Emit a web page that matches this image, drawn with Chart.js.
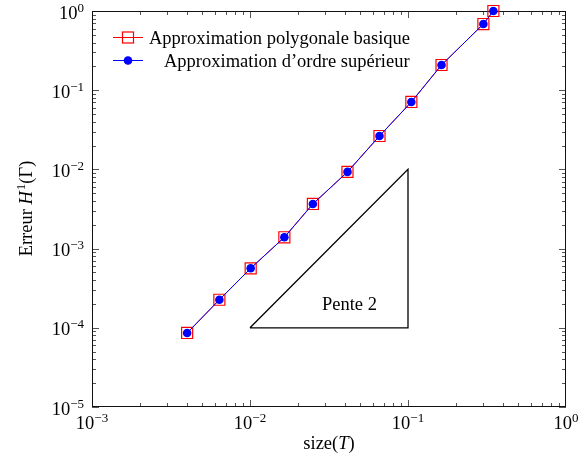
<!DOCTYPE html>
<html lang="fr">
<head>
  <meta charset="UTF-8" />
  <title>Erreur H1 en fonction de la taille du maillage</title>
  <script src="https://cdn.jsdelivr.net/npm/chart.js"></script>
  <style>
    body {
      margin: 0;
      padding: 0;
      background: #fff;
    }
    canvas {
      display: block;
    }
  </style>
</head>
<body>
  <canvas id="graficoErreur" width="585" height="464"></canvas>

  <script>
    const tailles = [0.004, 0.0064, 0.0101, 0.0165, 0.025, 0.0414, 0.066, 0.105, 0.163, 0.30, 0.347];
    const erreurBasique = [8.6e-5, 2.26e-4, 5.64e-4, 1.39e-3, 3.66e-3, 9.3e-3, 2.64e-2, 7.1e-2, 0.208, 0.685, 1.0];
    const erreurSuperieur = [8.6e-5, 2.26e-4, 5.64e-4, 1.39e-3, 3.66e-3, 9.3e-3, 2.64e-2, 7.1e-2, 0.208, 0.685, 1.0];
    const penteX = [0.01, 0.1, 0.1, 0.01];
    const penteY = [1e-4, 1e-4, 1e-2, 1e-4];
    const ticksX = [1e-3, 1e-2, 1e-1, 1];
    const ticksY = [1e-5, 1e-4, 1e-3, 1e-2, 1e-1, 1];
    const legende = ["Approximation polygonale basique", "Approximation d\u2019ordre sup\u00e9rieur"];

    const serif = '"Liberation Serif", "Times New Roman", serif';
    const points = (xs, ys) => xs.map((x, i) => ({ x: x, y: ys[i] }));
    const exposant = v => {
      const e = Math.round(Math.log10(v));
      return e < 0 ? "\u2212" + (-e) : String(e);
    };

    // ticks vers l'interieur + cadre, comme pgfplots
    const cadre = {
      id: 'cadre',
      beforeDatasetsDraw(chart) {
        const { ctx, chartArea: a, scales: { x, y } } = chart;
        ctx.save();
        ctx.strokeStyle = '#555';
        ctx.lineWidth = 1;
        ctx.beginPath();
        for (let d = -3; d < 0; d++) {
          for (let k = 1; k < 10; k++) {
            const px = Math.round(x.getPixelForValue(k * Math.pow(10, d))) + 0.5;
            const l = k === 1 ? 7 : 4;
            ctx.moveTo(px, a.bottom); ctx.lineTo(px, a.bottom - l);
            ctx.moveTo(px, a.top); ctx.lineTo(px, a.top + l);
          }
        }
        for (let d = -5; d < 0; d++) {
          for (let k = 1; k < 10; k++) {
            const py = Math.round(y.getPixelForValue(k * Math.pow(10, d))) + 0.5;
            const l = k === 1 ? 7 : 4;
            ctx.moveTo(a.left, py); ctx.lineTo(a.left + l, py);
            ctx.moveTo(a.right, py); ctx.lineTo(a.right - l, py);
          }
        }
        ctx.stroke();
        ctx.strokeStyle = '#111';
        ctx.strokeRect(a.left + 0.5, a.top + 0.5, a.right - a.left - 1, a.bottom - a.top - 1);
        ctx.restore();
      },
      afterDraw(chart) {
        const { ctx, chartArea: a, scales: { x, y } } = chart;
        ctx.save();
        ctx.fillStyle = '#000';
        ctx.textBaseline = 'alphabetic';
        const grand = '18.5px ' + serif;
        const petit = '13px ' + serif;

        // etiquettes axe x
        ticksX.forEach(v => {
          const px = x.getPixelForValue(v);
          ctx.font = grand; const w1 = ctx.measureText('10').width;
          ctx.font = petit; const w2 = ctx.measureText(exposant(v)).width;
          const x0 = px - (w1 + w2) / 2;
          ctx.textAlign = 'left';
          ctx.font = grand; ctx.fillText('10', x0, a.bottom + 22);
          ctx.font = petit; ctx.fillText(exposant(v), x0 + w1, a.bottom + 15);
        });

        // etiquettes axe y
        ticksY.forEach(v => {
          const py = y.getPixelForValue(v);
          ctx.font = petit; const w2 = ctx.measureText(exposant(v)).width;
          const xr = a.left - 8;
          ctx.textAlign = 'right';
          ctx.fillText(exposant(v), xr, py + 0.5);
          ctx.font = grand; ctx.fillText('10', xr - w2, py + 7.5);
        });

        // titre axe x : size(T)
        ctx.textAlign = 'left';
        const morceauxX = [['size(', grand], ['T', 'italic ' + grand], [')', grand]];
        let total = 0;
        morceauxX.forEach(m => { ctx.font = m[1]; total += ctx.measureText(m[0]).width; });
        let cx = (a.left + a.right) / 2 - total / 2;
        morceauxX.forEach(m => { ctx.font = m[1]; ctx.fillText(m[0], cx, 449); cx += ctx.measureText(m[0]).width; });

        // titre axe y : Erreur H^1(Γ)
        ctx.save();
        ctx.translate(32, (a.top + a.bottom) / 2);
        ctx.rotate(-Math.PI / 2);
        const morceauxY = [['Erreur ', grand, 0], ['H', 'italic ' + grand, 0], ['1', petit, -7], ['(\u0393)', grand, 0]];
        total = 0;
        morceauxY.forEach(m => { ctx.font = m[1]; total += ctx.measureText(m[0]).width; });
        cx = -total / 2;
        morceauxY.forEach(m => { ctx.font = m[1]; ctx.fillText(m[0], cx, m[2]); cx += ctx.measureText(m[0]).width + (m[0] === 'H' ? 1 : 0); });
        ctx.restore();

        // texte du triangle
        ctx.font = grand;
        ctx.textAlign = 'center';
        ctx.textBaseline = 'middle';
        ctx.fillText('Pente 2', x.getPixelForValue(0.0426), y.getPixelForValue(1.94e-4));

        // legende
        ctx.textAlign = 'left';
        ctx.textBaseline = 'alphabetic';
        ctx.lineWidth = 1;
        ctx.strokeStyle = '#ff0000';
        ctx.beginPath(); ctx.moveTo(113, 37.5); ctx.lineTo(143, 37.5); ctx.stroke();
        ctx.lineWidth = 1.2;
        ctx.strokeRect(128 - 5.5, 37.5 - 5.5, 11, 11);
        ctx.strokeStyle = '#0000ff';
        ctx.fillStyle = '#0000ff';
        ctx.lineWidth = 1;
        ctx.beginPath(); ctx.moveTo(113, 60.5); ctx.lineTo(143, 60.5); ctx.stroke();
        ctx.beginPath(); ctx.arc(128, 60.5, 4.3, 0, Math.PI * 2); ctx.fill();
        ctx.fillStyle = '#000';
        ctx.font = grand;
        ctx.fillText(legende[0], 149, 44);
        ctx.fillText(legende[1], 164, 66.5);
        ctx.restore();
      }
    };

    const ctx = document.getElementById('graficoErreur').getContext('2d');

    new Chart(ctx, {
      type: 'line',
      data: {
        datasets: [{
          label: legende[1],
          data: points(tailles, erreurSuperieur),
          borderColor: '#0000ff',
          backgroundColor: '#0000ff',
          borderWidth: 1,
          pointStyle: 'circle',
          pointRadius: 4.3,
          pointBorderWidth: 0,
          tension: 0,
          clip: false,
          order: 0
        }, {
          label: legende[0],
          data: points(tailles, erreurBasique),
          borderColor: '#ff0000',
          borderWidth: 1,
          pointStyle: 'rect',
          pointRadius: 7.8,
          pointBackgroundColor: 'rgba(255,255,255,0)',
          pointBorderColor: '#ff0000',
          pointBorderWidth: 1.2,
          tension: 0,
          clip: false,
          order: 1
        }, {
          label: 'Pente 2',
          data: points(penteX, penteY),
          borderColor: '#000',
          borderWidth: 1.3,
          pointRadius: 0,
          tension: 0,
          order: 2
        }]
      },
      options: {
        responsive: false,
        animation: false,
        layout: { padding: { top: 11, right: 19, left: 0, bottom: 0 } },
        plugins: {
          legend: { display: false },
          tooltip: { enabled: false }
        },
        scales: {
          x: {
            type: 'logarithmic',
            min: 1e-3,
            max: 1,
            ticks: { display: false },
            grid: { display: false },
            border: { display: false },
            afterFit(s) { s.height = 57; }
          },
          y: {
            type: 'logarithmic',
            min: 1e-5,
            max: 1,
            ticks: { display: false },
            grid: { display: false },
            border: { display: false },
            afterFit(s) { s.width = 92; }
          }
        }
      },
      plugins: [cadre]
    });
  </script>
</body>
</html>
